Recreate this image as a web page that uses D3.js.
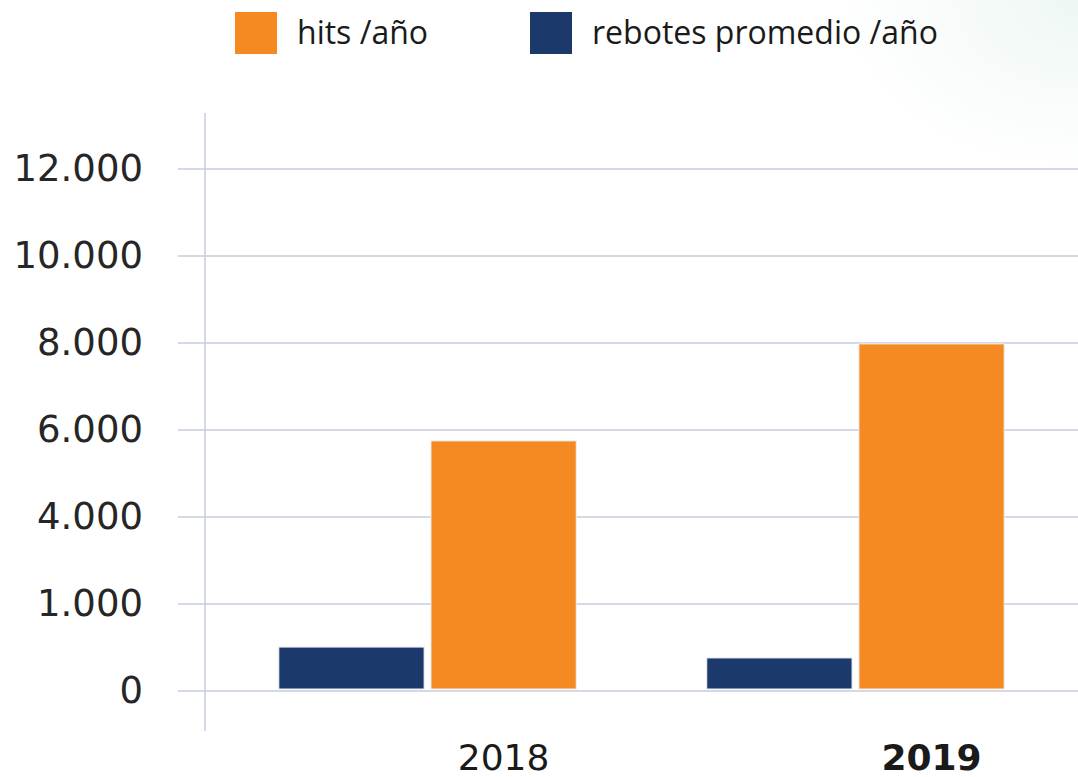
<!DOCTYPE html>
<html>
<head>
<meta charset="utf-8">
<script src="https://cdn.jsdelivr.net/npm/d3@7"></script>
<style>
  body { margin: 0; background: #fff; }
  svg { display: block; }
</style>
</head>
<body>
<svg id="chart" width="1078" height="777"></svg>
<script>
// data
const years = ["2018", "2019"];
const seriesKeys = ["rebotes", "hits"];
const seriesNames = ["hits /año", "rebotes promedio /año"];
const hitsValues = [5750, 7980];
const rebotesValues = [1010, 760];
const tickValues = [0, 2000, 4000, 6000, 8000, 10000, 12000];
const tickLabels = ["0", "1.000", "4.000", "6.000", "8.000", "10.000", "12.000"];

const colors = { hits: "#f58a23", rebotes: "#1c396c" };

const svg = d3.select("#chart");
const width = +svg.attr("width");
const font = "'DejaVu Sans', sans-serif";

// faint tint in the top right corner
const defs = svg.append("defs");
const grad = defs.append("radialGradient").attr("id", "tint")
    .attr("cx", "100%").attr("cy", "0%").attr("r", "22%");
grad.append("stop").attr("offset", "0%").attr("stop-color", "#eef7f3");
grad.append("stop").attr("offset", "100%").attr("stop-color", "#ffffff");
svg.append("rect").attr("width", width).attr("height", 777).attr("fill", "url(#tint)");

const y = d3.scaleLinear().domain([0, 12000]).range([691, 169]);

const x0 = d3.scaleBand()
    .domain(years)
    .range([205, 1078])
    .paddingInner(0.305)
    .paddingOuter(0.1725);

const x1 = d3.scaleBand()
    .domain(seriesKeys)
    .range([0, x0.bandwidth()])
    .paddingInner(0.045);

// gridlines
svg.append("g")
    .selectAll("line")
    .data(tickValues)
    .join("line")
    .attr("x1", 178)
    .attr("x2", width)
    .attr("y1", d => y(d))
    .attr("y2", d => y(d))
    .attr("stroke", "#c6cddc")
    .attr("stroke-width", 1.5);

// vertical axis line
svg.append("line")
    .attr("x1", 205).attr("x2", 205)
    .attr("y1", 113).attr("y2", 731)
    .attr("stroke", "#c6cddc")
    .attr("stroke-width", 1.5);

// y tick labels
const yAxis = d3.axisLeft(y)
    .tickValues(tickValues)
    .tickFormat((d, i) => tickLabels[i])
    .tickSize(0)
    .tickPadding(0);

const yg = svg.append("g")
    .attr("transform", "translate(143,0)")
    .call(yAxis);
yg.select(".domain").remove();
yg.selectAll("text")
    .attr("font-family", font)
    .attr("font-size", 37)
    .attr("fill", "#262626");

// bars
const rows = years.map((yr, i) => ({ year: yr, hits: hitsValues[i], rebotes: rebotesValues[i] }));

const groups = svg.append("g")
    .selectAll("g")
    .data(rows)
    .join("g")
    .attr("transform", d => `translate(${x0(d.year)},0)`);

groups.selectAll("rect")
    .data(d => seriesKeys.map(k => ({ key: k, value: d[k] })))
    .join("rect")
    .attr("x", d => x1(d.key))
    .attr("width", x1.bandwidth())
    .attr("y", d => y(d.value))
    .attr("height", d => y(0) - 2 - y(d.value))
    .attr("fill", d => colors[d.key])
    .attr("stroke", "#eef0f4")
    .attr("stroke-width", 1);

// year labels, centred under the orange bar
svg.append("g")
    .selectAll("text")
    .data(years)
    .join("text")
    .attr("x", d => x0(d) + x1("hits") + x1.bandwidth() / 2)
    .attr("y", 770)
    .attr("text-anchor", "middle")
    .attr("font-family", font)
    .attr("font-size", 36)
    .attr("font-weight", (d, i) => i === 1 ? "bold" : "normal")
    .attr("fill", "#1a1a1a")
    .text(d => d);

// legend
const legendItems = [
    { name: seriesNames[0], color: colors.hits, x: 235 },
    { name: seriesNames[1], color: colors.rebotes, x: 530 }
];

const legend = svg.append("g")
    .selectAll("g")
    .data(legendItems)
    .join("g")
    .attr("transform", d => `translate(${d.x},12)`);

legend.append("rect")
    .attr("width", 42)
    .attr("height", 42)
    .attr("fill", d => d.color);

legend.append("text")
    .attr("x", 62)
    .attr("y", 32)
    .attr("font-family", "'Open Sans', sans-serif")
    .attr("font-size", 32)
    .attr("fill", "#1a1a1a")
    .text(d => d.name);
</script>
</body>
</html>
